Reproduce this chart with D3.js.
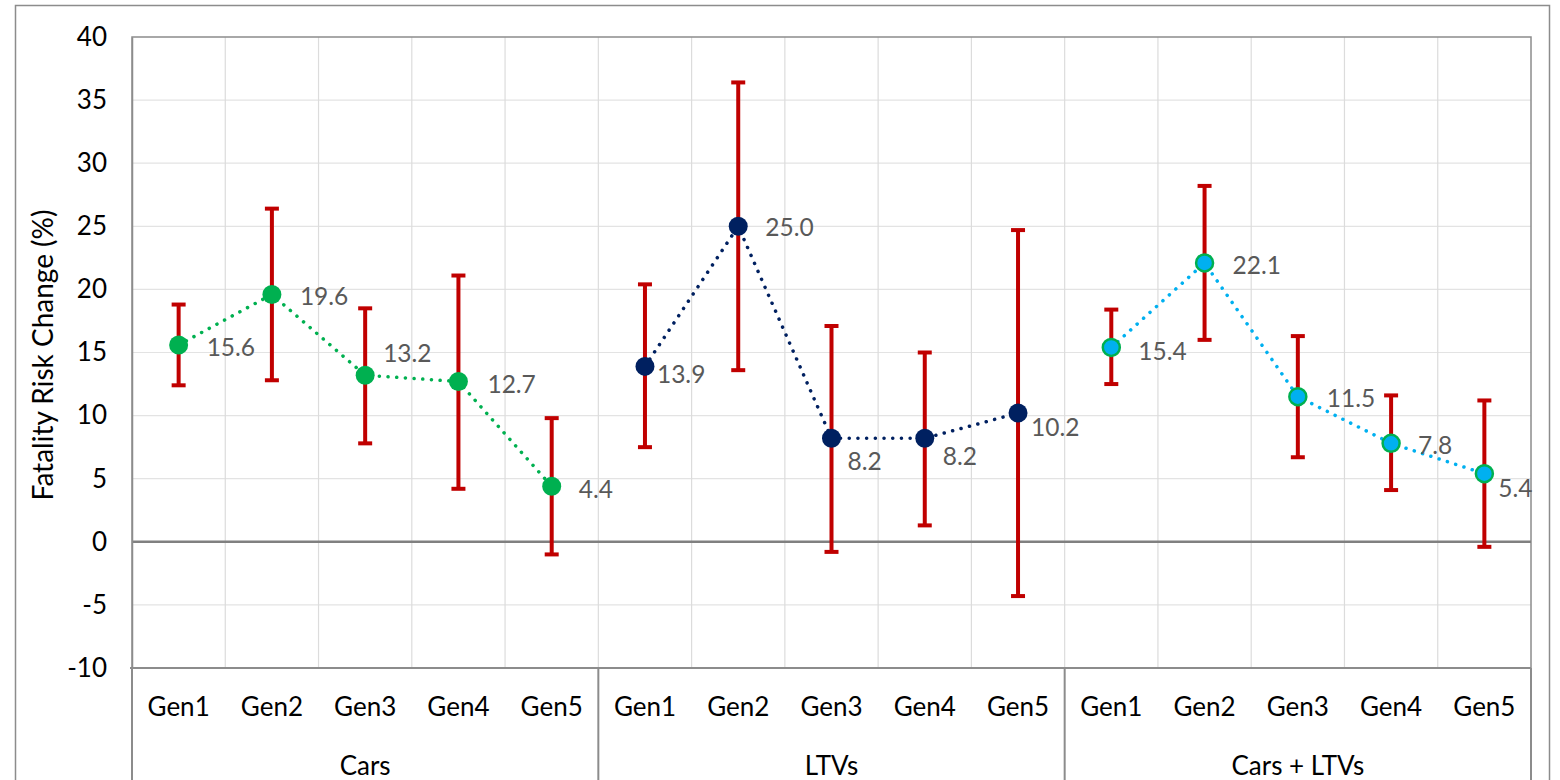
<!DOCTYPE html>
<html>
<head>
<meta charset="utf-8">
<script src="https://cdn.jsdelivr.net/npm/d3@7/dist/d3.min.js"></script>
<style>
  html, body { margin: 0; padding: 0; background: #ffffff; }
  svg { display: block; font-family: Lato, "Open Sans", sans-serif; }
</style>
</head>
<body>
<svg id="chart" width="1560" height="780"></svg>
<script>
// Vehicle groups and generations on the two-level category axis
const groups = ["Cars", "LTVs", "Cars + LTVs"];
const generations = ["Gen1", "Gen2", "Gen3", "Gen4", "Gen5"];

// Fatality risk change (%) with confidence bounds, per group
const carsValues = [15.6, 19.6, 13.2, 12.7, 4.4];
const carsLower  = [12.4, 12.8, 7.8, 4.2, -1.0];
const carsUpper  = [18.8, 26.4, 18.5, 21.1, 9.8];

const ltvValues = [13.9, 25.0, 8.2, 8.2, 10.2];
const ltvLower  = [7.5, 13.6, -0.8, 1.3, -4.3];
const ltvUpper  = [20.4, 36.4, 17.1, 15.0, 24.7];

const combinedValues = [15.4, 22.1, 11.5, 7.8, 5.4];
const combinedLower  = [12.5, 16.0, 6.7, 4.1, -0.4];
const combinedUpper  = [18.4, 28.2, 16.3, 11.6, 11.2];

// Y axis ticks
const yTicks = [-10, -5, 0, 5, 10, 15, 20, 25, 30, 35, 40];
const yTitle = "Fatality Risk Change (%)";

// Label nudges (px) so value labels sit clear of markers and bars
const labelNudge = [
  [[28, 2], [28, 1], [18, -23], [29, 2], [27, 2]],
  [[12, 7], [27, 0], [16, 22], [18, 17], [13, 13]],
  [[27, 3], [28, 2], [29, 1], [27, 1], [14, 14]]
];

const seriesStyle = [
  { fill: "#00b050", stroke: "none", line: "#00b050" },
  { fill: "#002060", stroke: "none", line: "#002060" },
  { fill: "#00b0f0", stroke: "#00b050", line: "#00b0f0" }
];

const series = [
  { values: carsValues, lower: carsLower, upper: carsUpper },
  { values: ltvValues, lower: ltvLower, upper: ltvUpper },
  { values: combinedValues, lower: combinedLower, upper: combinedUpper }
];

const svg = d3.select("#chart");
const plot = { left: 132, right: 1531, top: 37, bottom: 668 };

const keys = [];
groups.forEach(g => generations.forEach(gen => keys.push(g + "|" + gen)));

const x = d3.scaleBand().domain(keys).range([plot.left, plot.right]).paddingInner(0).paddingOuter(0);
const y = d3.scaleLinear().domain([-10, 40]).range([plot.bottom, plot.top]);

// Outer chart frame
svg.append("rect")
  .attr("x", 15.5).attr("y", 5.5).attr("width", 1534).attr("height", 800)
  .attr("fill", "#ffffff").attr("stroke", "#8c8c8c").attr("stroke-width", 1.5);

// Horizontal gridlines
svg.append("g").selectAll("line").data(yTicks.filter(t => t !== 0 && t !== 40 && t !== -10))
  .join("line")
  .attr("x1", plot.left).attr("x2", plot.right)
  .attr("y1", d => y(d)).attr("y2", d => y(d))
  .attr("stroke", "#e3e3e3").attr("stroke-width", 1.2);

// Vertical gridlines at category boundaries
svg.append("g").selectAll("line").data(keys.slice(1))
  .join("line")
  .attr("x1", d => x(d)).attr("x2", d => x(d))
  .attr("y1", plot.top).attr("y2", plot.bottom)
  .attr("stroke", "#dcdcdc").attr("stroke-width", 1.2);

// Plot border
svg.append("rect")
  .attr("x", plot.left).attr("y", plot.top)
  .attr("width", plot.right - plot.left).attr("height", plot.bottom - plot.top)
  .attr("fill", "none").attr("stroke", "#8c8c8c").attr("stroke-width", 1.5);

// Zero line
svg.append("line")
  .attr("x1", plot.left).attr("x2", plot.right)
  .attr("y1", y(0)).attr("y2", y(0))
  .attr("stroke", "#808080").attr("stroke-width", 2.5);

// Y axis
const yAxis = svg.append("g")
  .attr("transform", `translate(${plot.left},0)`)
  .call(d3.axisLeft(y).tickValues(yTicks).tickSize(0).tickPadding(25).tickFormat(d => String(d)));
yAxis.select(".domain").attr("stroke", "#8c8c8c").attr("stroke-width", 1.5);
yAxis.selectAll("text").attr("font-size", 26).attr("fill", "#000000")
  .attr("font-family", "Lato, sans-serif");

svg.append("text")
  .attr("transform", `translate(42,355) rotate(-90)`)
  .attr("text-anchor", "middle").attr("dominant-baseline", "central")
  .attr("font-size", 28).attr("fill", "#000000")
  .text(yTitle);

// Category axis: generation row
const xAxis = svg.append("g")
  .attr("transform", `translate(0,${plot.bottom})`)
  .call(d3.axisBottom(x).tickSize(0).tickPadding(30).tickFormat(d => d.split("|")[1]));
xAxis.select(".domain").remove();
xAxis.selectAll("text").attr("font-size", 26).attr("fill", "#000000")
  .attr("font-family", "Lato, sans-serif");

svg.append("line")
  .attr("x1", plot.left - 2).attr("x2", plot.right)
  .attr("y1", plot.bottom).attr("y2", plot.bottom)
  .attr("stroke", "#8c8c8c").attr("stroke-width", 2);

// Group dividers and group labels
const groupBounds = groups.map(g => {
  const first = x(g + "|" + generations[0]);
  const last = x(g + "|" + generations[generations.length - 1]) + x.bandwidth();
  return { name: g, x0: first, x1: last };
});
const dividers = [plot.left].concat(groupBounds.map(b => b.x1));
svg.append("g").selectAll("line").data(dividers)
  .join("line")
  .attr("x1", d => d).attr("x2", d => d)
  .attr("y1", plot.bottom).attr("y2", 800)
  .attr("stroke", "#8c8c8c").attr("stroke-width", 2);

svg.append("g").selectAll("text").data(groupBounds)
  .join("text")
  .attr("x", d => (d.x0 + d.x1) / 2).attr("y", 765)
  .attr("text-anchor", "middle").attr("dominant-baseline", "central")
  .attr("font-size", 26).attr("fill", "#000000")
  .text(d => d.name);

// Series: dotted connector, error bars, markers, value labels
const cx = (gi, i) => x(groups[gi] + "|" + generations[i]) + x.bandwidth() / 2;
const capHalf = 7;

series.forEach((s, gi) => {
  const st = seriesStyle[gi];
  const g = svg.append("g");

  const line = d3.line().x((d, i) => cx(gi, i)).y(d => y(d));
  g.append("path")
    .attr("d", line(s.values))
    .attr("fill", "none").attr("stroke", st.line)
    .attr("stroke-width", 3.5).attr("stroke-linecap", "round")
    .attr("stroke-dasharray", "0.1 8.6");

  const eb = g.append("g").attr("stroke", "#c00000").attr("stroke-width", 4);
  s.values.forEach((v, i) => {
    const px = cx(gi, i);
    eb.append("line").attr("x1", px).attr("x2", px)
      .attr("y1", y(s.upper[i])).attr("y2", y(s.lower[i]));
    eb.append("line").attr("x1", px - capHalf).attr("x2", px + capHalf)
      .attr("y1", y(s.upper[i])).attr("y2", y(s.upper[i]));
    eb.append("line").attr("x1", px - capHalf).attr("x2", px + capHalf)
      .attr("y1", y(s.lower[i])).attr("y2", y(s.lower[i]));
  });

  g.selectAll("circle").data(s.values).join("circle")
    .attr("cx", (d, i) => cx(gi, i)).attr("cy", d => y(d))
    .attr("r", st.stroke === "none" ? 9.5 : 8.5)
    .attr("fill", st.fill)
    .attr("stroke", st.stroke).attr("stroke-width", st.stroke === "none" ? 0 : 2.5);

  g.selectAll("text").data(s.values).join("text")
    .attr("x", (d, i) => cx(gi, i) + labelNudge[gi][i][0])
    .attr("y", (d, i) => y(d) + labelNudge[gi][i][1])
    .attr("dominant-baseline", "central")
    .attr("font-size", 24.5).attr("fill", "#595959")
    .text(d => d3.format(".1f")(d));
});
</script>
</body>
</html>
